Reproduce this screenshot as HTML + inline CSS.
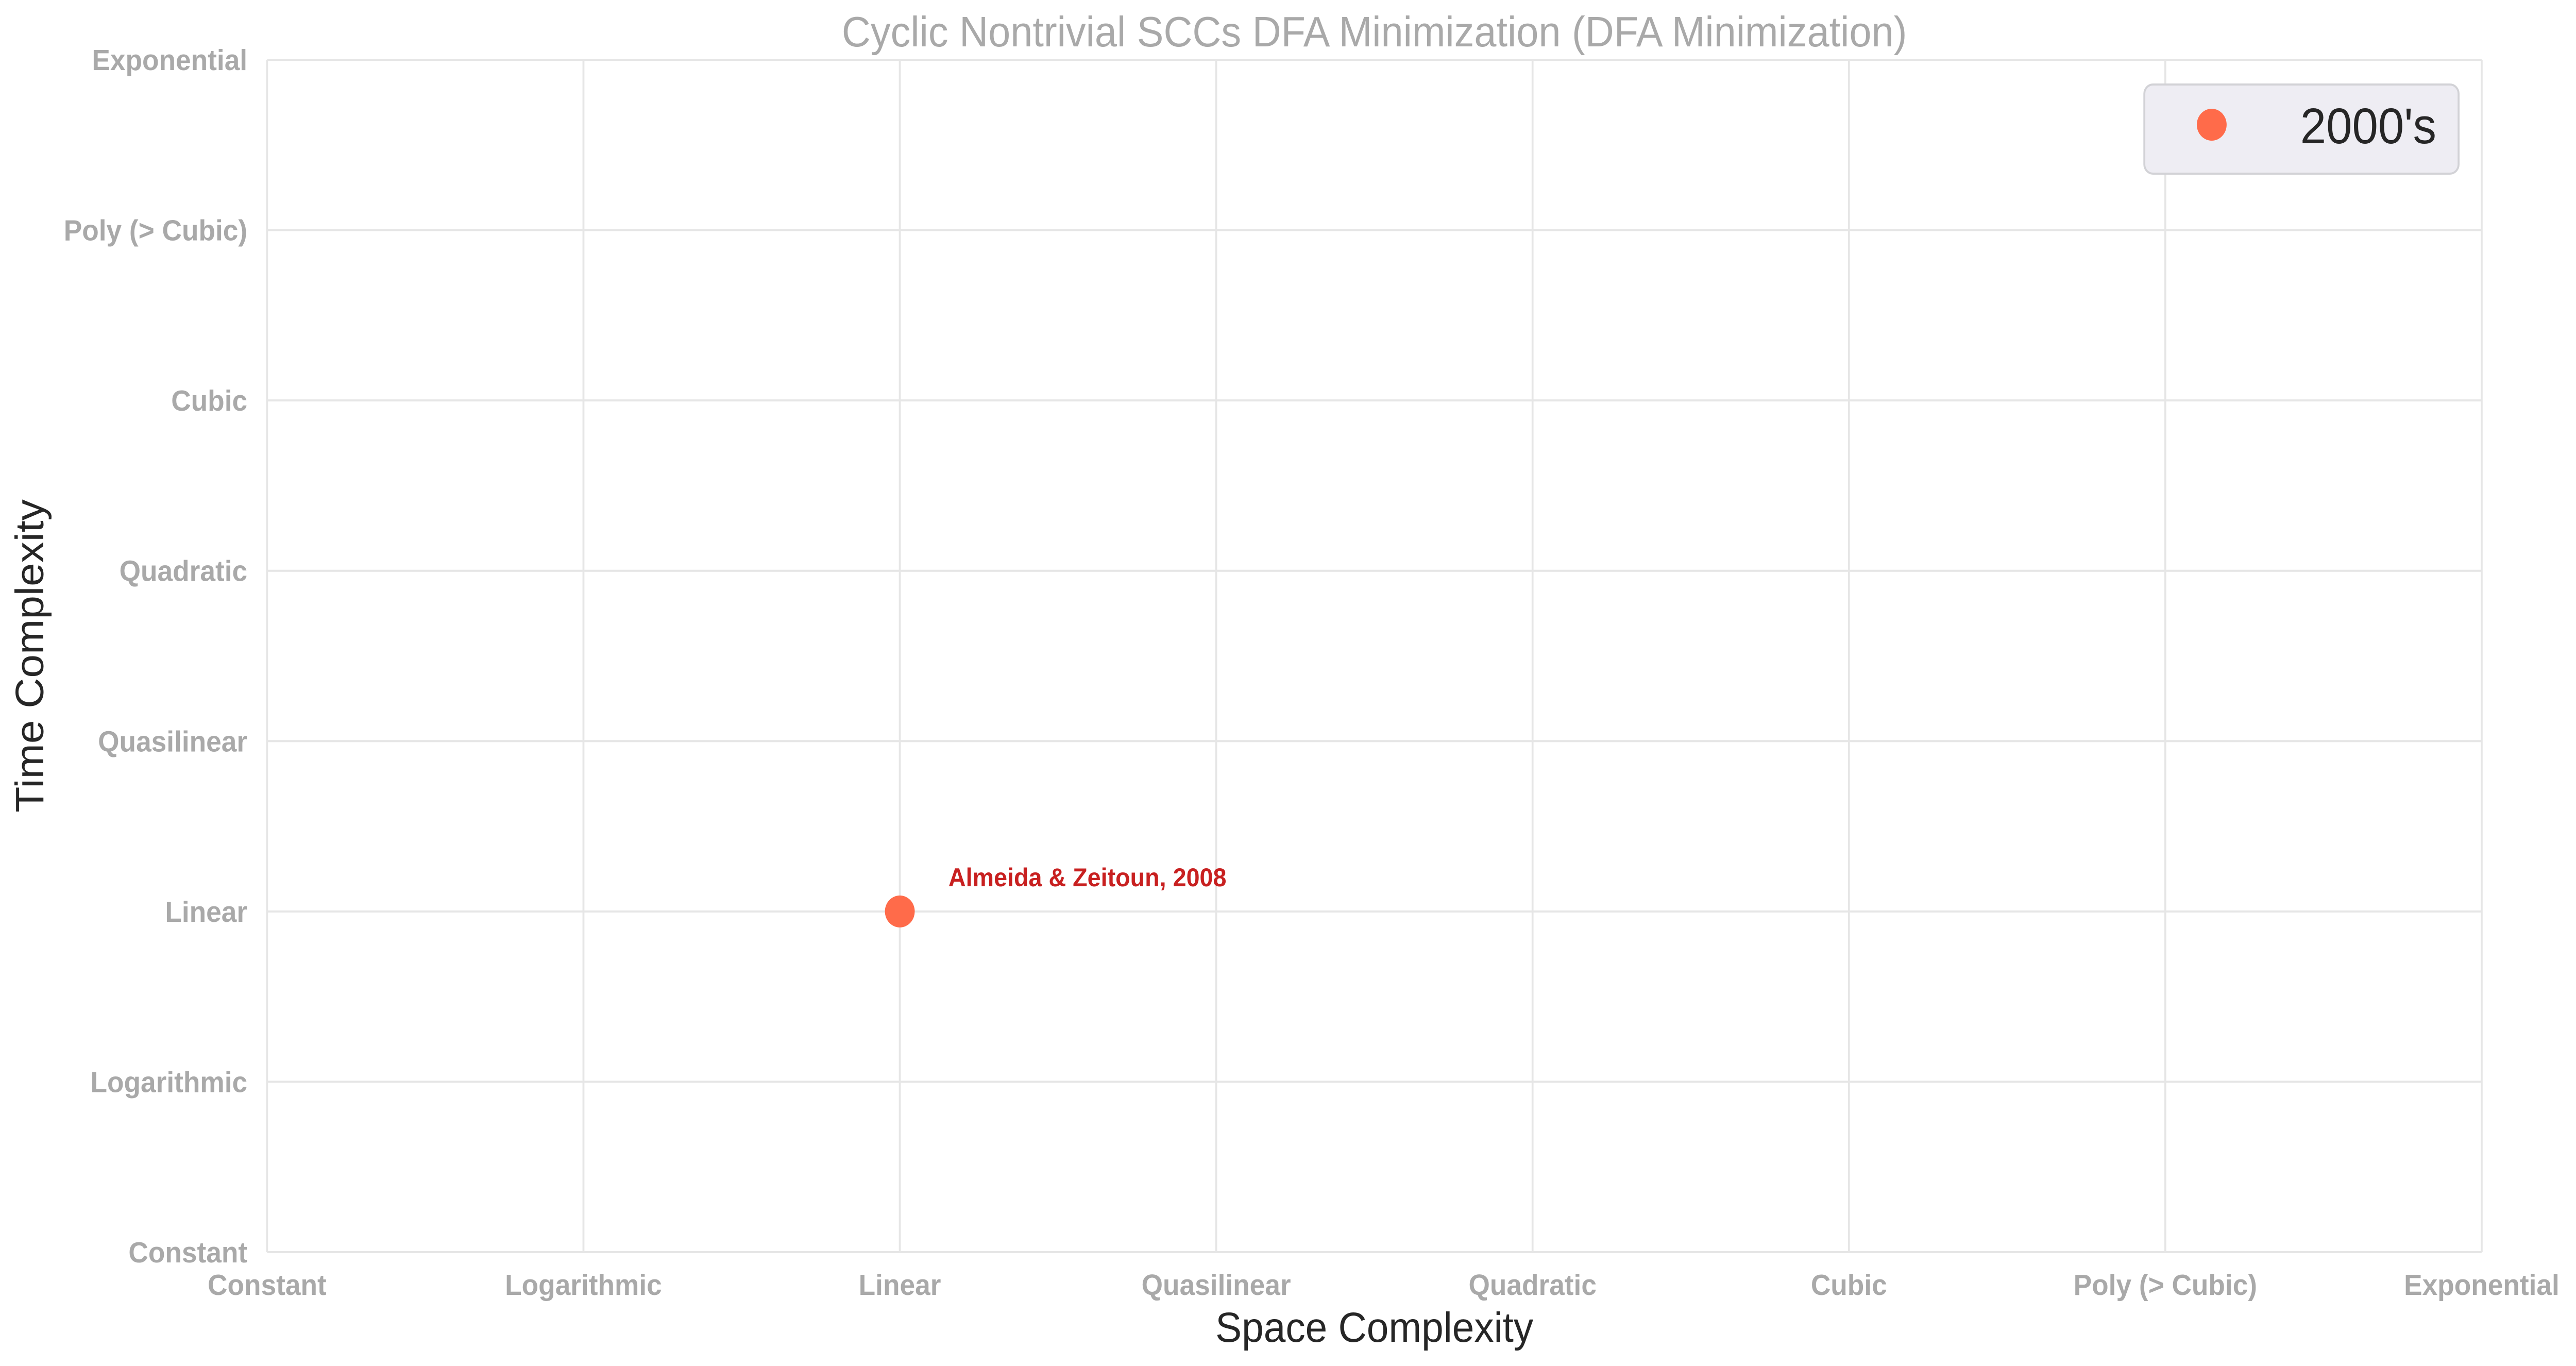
<!DOCTYPE html>
<html><head><meta charset="utf-8"><style>
html,body{margin:0;padding:0;background:#fff;overflow:hidden;width:100%;height:100%;}
svg{display:block;width:100vw;height:100vh;font-family:"Liberation Sans",Arial,sans-serif;}
</style></head><body>
<svg id="chart" viewBox="0 0 5353 2651" preserveAspectRatio="none">
<rect x="0" y="0" width="5353" height="2651" fill="#fff"/>
<g id="grid"></g>
<g id="ticks"></g>
<g id="marks"></g>
<text x="2856" y="90" text-anchor="middle" font-size="83" fill="#a9a9a9">Cyclic Nontrivial SCCs DFA Minimization (DFA Minimization)</text>
<text x="2856" y="2604" text-anchor="middle" font-size="82" fill="#262626">Space Complexity</text>
<text x="0" y="0" transform="translate(90,1273) rotate(-90)" text-anchor="middle" font-size="82" fill="#262626">Time Complexity</text>
<g>
<rect x="4456" y="164" width="653" height="173" rx="18" fill="#eeedf3" stroke="#d2d2d6" stroke-width="4"/>
<circle cx="4596" cy="242" r="31" fill="#ff6b4a"/>
<text x="4780" y="278" font-size="97" fill="#262626">2000's</text>
</g>
</svg>
<script>
const categories = ["Constant","Logarithmic","Linear","Quasilinear","Quadratic","Cubic","Poly (> Cubic)","Exponential"];
const pointLabels = ["Almeida & Zeitoun, 2008"];
const pointSpace = [2];
const pointTime = [2];
const L=555,R=5157,T=116,B=2430;
const NS="http://www.w3.org/2000/svg";
function xs(v){return L+v*(R-L)/(categories.length-1);}
function ys(v){return B-v*(B-T)/(categories.length-1);}
const grid=document.getElementById('grid'),ticks=document.getElementById('ticks'),marks=document.getElementById('marks');
function mk(tag,attrs,parent){const e=document.createElementNS(NS,tag);for(const k in attrs)e.setAttribute(k,attrs[k]);parent.appendChild(e);return e;}
categories.forEach((c,i)=>{
  const vl=mk('line',{x1:xs(i),x2:xs(i),y1:T,y2:B,stroke:'#e6e6e6','stroke-width':4},grid);
  
  
  const hl=mk('line',{x1:L,x2:R,y1:ys(i),y2:ys(i),stroke:'#e6e6e6','stroke-width':4},grid);
  
  
  const xt=mk('text',{x:xs(i),y:2513,'text-anchor':'middle','font-size':57,'font-weight':'bold',fill:'#a9a9a9'},ticks);
  xt.textContent=c;
  
  
  const yt=mk('text',{x:514,y:ys(i)+20,'text-anchor':'end','font-size':57,'font-weight':'bold',fill:'#a9a9a9'},ticks);
  yt.textContent=c;
  
  
});
pointSpace.forEach((s,i)=>{
  const c=mk('circle',{cx:xs(s),cy:ys(pointTime[i]),r:31,fill:'#ff6b4a'},marks);
  
  
  const t=mk('text',{x:xs(s)+101,y:ys(pointTime[i])-49,'font-size':50,'font-weight':'bold',fill:'#c82020'},marks);
  t.textContent=pointLabels[i];
  
  
});
</script>
</body></html>
